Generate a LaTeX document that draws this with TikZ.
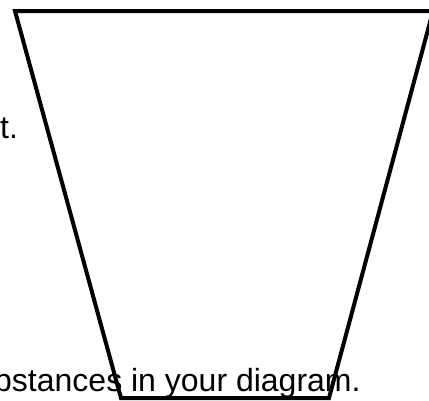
\documentclass[tikz,border=0pt]{standalone}
\usepackage{fontspec}
\setmainfont{Liberation Sans}
\usetikzlibrary{positioning}

\begin{document}
\begin{tikzpicture}[x=1pt, y=-1pt,
  cup/.style={draw=black, line width=4pt, line join=miter},
  txt/.style={font=\fontsize{32}{38}\selectfont, inner sep=0pt, anchor=base west}
]
\useasboundingbox (0,0) rectangle (429,400);
\clip (0,0) rectangle (429,400);
\coordinate (tl) at (15,11);
\coordinate (tr) at (433,11);
\coordinate (br) at (329,398);
\coordinate (bl) at (121,398);
\draw[cup] (tl) -- (tr) -- (br) -- (bl) -- cycle;
\node[txt] (endtxt) at (0,138) {t.};
\node[txt] (subst) at (-6,391) {bstances in your diagram.};
\end{tikzpicture}
\end{document}
